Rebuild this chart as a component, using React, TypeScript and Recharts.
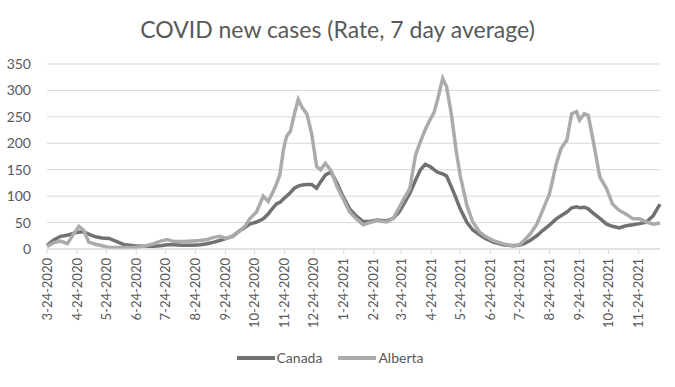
import React from "react";
import { CartesianGrid, Legend, Line, LineChart, XAxis, YAxis } from "recharts";

// days since 3-24-2020 for each sample
const days = [
  0, 7, 14, 21, 28, 33, 38, 43, 50, 57, 64, 72, 80, 90, 100, 110, 117, 124, 131, 140,
  150, 158, 165, 172, 178, 185, 192, 199, 205, 209, 216, 223, 228, 233, 237, 240, 244, 247, 251, 255,
  259, 263, 268, 273, 278, 282, 287, 290, 293, 299, 305, 312, 319, 326, 333, 340, 350, 357, 363, 367,
  374, 380, 385, 390, 395, 399, 403, 408, 412, 417, 422, 426, 433, 439, 446, 452, 460, 470, 480, 487,
  493, 498, 505, 511, 518, 525, 530, 536, 541, 546, 549, 554, 558, 563, 570, 577, 583, 590, 597, 604,
  611, 618, 625, 632,
];

const canada = [
  7, 17, 24, 26, 30, 32, 32, 28, 23, 21, 20, 14, 8, 6, 5, 5, 6, 8, 8, 7,
  7, 8, 10, 13, 16, 20, 25, 35, 42, 47, 51, 57, 66, 78, 86, 88, 95, 100, 107, 115,
  119, 121, 122, 122, 115, 127, 140, 143, 145, 125, 100, 76, 62, 52, 52, 55, 53, 58, 70, 82,
  105, 130, 150, 160, 156, 150, 145, 142, 138, 117, 95, 76, 50, 36, 27, 20, 13, 8, 6, 7,
  11, 16, 25, 35, 45, 57, 63, 70, 78, 80, 78, 79, 76, 68, 58, 47, 43, 40, 44, 46,
  48, 51, 63, 85,
];

const alberta = [
  5, 12, 15, 10, 30, 43, 35, 13, 9, 6, 3, 3, 3, 3, 5, 10, 15, 18, 14, 14,
  15, 16, 18, 22, 24, 20, 24, 35, 45, 57, 70, 100, 90, 108, 125, 140, 190, 213, 223, 255,
  283, 268, 255, 217, 156, 150, 162, 155, 148, 118, 96, 70, 57, 46, 50, 54, 51, 58, 78, 92,
  114, 178, 203, 226, 245, 258, 285, 323, 307, 254, 184, 139, 82, 51, 32, 24, 16, 10, 6, 8,
  18, 28, 47, 73, 104, 161, 190, 206, 256, 260, 244, 256, 253, 206, 136, 114, 85, 73, 66, 57,
  57, 51, 47, 49,
];

const tickLabels = [
  "3-24-2020", "4-24-2020", "5-24-2020", "6-24-2020", "7-24-2020", "8-24-2020", "9-24-2020",
  "10-24-2020", "11-24-2020", "12-24-2020", "1-24-2021", "2-24-2021", "3-24-2021", "4-24-2021",
  "5-24-2021", "6-24-2021", "7-24-2021", "8-24-2021", "9-24-2021", "10-24-2021", "11-24-2021",
];

const yTicks = [0, 50, 100, 150, 200, 250, 300, 350];

const series = [
  { key: "Canada", color: "#717171" },
  { key: "Alberta", color: "#ababab" },
];

const FONT = "Lato, 'Liberation Sans', sans-serif";
const TEXT = "#595959";

const toUTC = (s: string) => {
  const [m, d, y] = s.split("-").map(Number);
  return Date.UTC(y, m - 1, d);
};
const start = toUTC(tickLabels[0]);
const dayOf = (s: string) => Math.round((toUTC(s) - start) / 86400000);
const tickDays = tickLabels.map(dayOf);
const labelByDay: Record<number, string> = {};
tickLabels.forEach((l, i) => (labelByDay[tickDays[i]] = l));

const data = days.map((d, i) => ({ day: d, Canada: canada[i], Alberta: alberta[i] }));

function DateTick({ x, y, payload }: any) {
  return (
    <text
      x={x}
      y={y}
      transform={`rotate(-90, ${x}, ${y})`}
      textAnchor="end"
      dy="0.35em"
      fill={TEXT}
      fontSize={13}
      fontFamily={FONT}
    >
      {labelByDay[payload.value]}
    </text>
  );
}

function LegendBox() {
  return (
    <div style={{ display: "flex", justifyContent: "center", gap: 16, fontFamily: FONT, fontSize: 14, color: TEXT }}>
      {series.map((s) => (
        <div key={s.key} style={{ display: "flex", alignItems: "center" }}>
          <span style={{ display: "inline-block", width: 38, height: 4, background: s.color, marginRight: 2 }} />
          {s.key}
        </div>
      ))}
    </div>
  );
}

export default function App() {
  return (
    <div style={{ position: "absolute", left: 0, top: 0, width: 675, height: 387, background: "#fff" }}>
      <div
        style={{
          position: "absolute",
          top: 15,
          width: 675,
          textAlign: "center",
          fontFamily: FONT,
          fontSize: 23,
          color: TEXT,
        }}
      >
        COVID new cases (Rate, 7 day average)
      </div>
      <LineChart width={675} height={387} data={data} margin={{ top: 64, right: 15, bottom: 0, left: 0 }}>
        <CartesianGrid stroke="#d9d9d9" vertical={false} />
        <XAxis
          dataKey="day"
          type="number"
          domain={[0, 632]}
          ticks={tickDays}
          interval={0}
          height={100}
          stroke="#d9d9d9"
          tickSize={5}
          tickMargin={4}
          tick={<DateTick />}
        />
        <YAxis
          domain={[0, 350]}
          ticks={yTicks}
          width={47}
          axisLine={false}
          tickLine={false}
          tickSize={0}
          tickMargin={16}
          tick={{ fill: TEXT, fontSize: 14, fontFamily: FONT }}
        />
        <Legend verticalAlign="bottom" height={38} content={<LegendBox />} />
        {series.map((s) => (
          <Line
            key={s.key}
            type="linear"
            dataKey={s.key}
            stroke={s.color}
            strokeWidth={3.5}
            dot={false}
            isAnimationActive={false}
          />
        ))}
      </LineChart>
    </div>
  );
}
